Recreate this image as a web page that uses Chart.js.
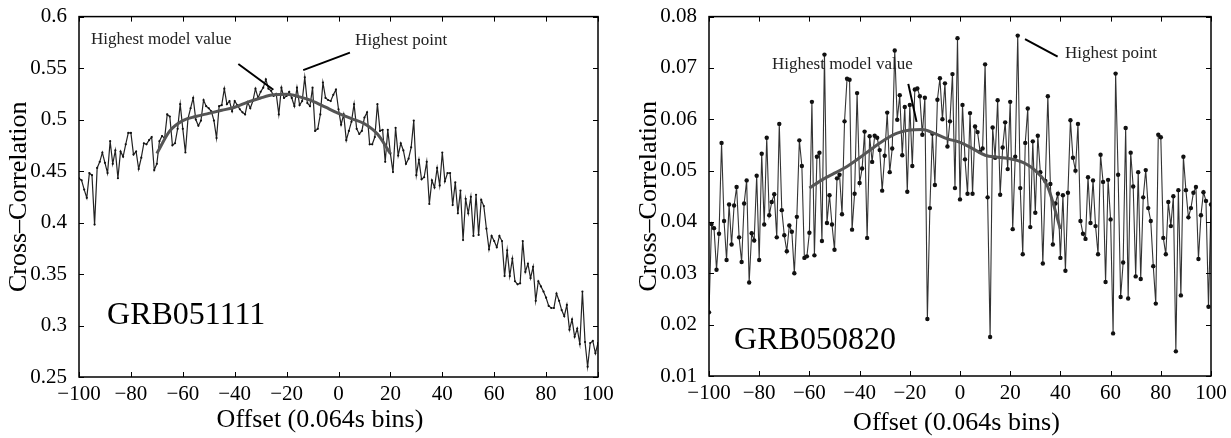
<!DOCTYPE html>
<html>
<head>
<meta charset="utf-8">
<script src="https://cdn.jsdelivr.net/npm/chart.js@4.4.0/dist/chart.umd.min.js"></script>
<style>
  body { margin: 0; background: #fff; }
  #wrap { position: relative; width: 1231px; height: 438px; }
  canvas { position: absolute; top: 0; }
</style>
</head>
<body>
<div id="wrap">
  <canvas id="leftChart" width="616" height="438" style="left:0"></canvas>
  <canvas id="rightChart" width="615" height="438" style="left:616px"></canvas>
</div>
<script>
// offset bins, one per lag
const offsets = [];
for (let k = -100; k <= 100; k++) offsets.push(k);

const xTicks = [-100, -80, -60, -40, -20, 0, 20, 40, 60, 80, 100];
const leftYTicks = [0.25, 0.3, 0.35, 0.4, 0.45, 0.5, 0.55, 0.6];
const rightYTicks = [0.01, 0.02, 0.03, 0.04, 0.05, 0.06, 0.07, 0.08];

// GRB051111 cross-correlation, offsets -100..100
const grb051111 = [
  0.443, 0.441, 0.432, 0.424, 0.448, 0.446, 0.398, 0.453, 0.459, 0.468,
  0.458, 0.448, 0.479, 0.457, 0.470, 0.443, 0.469, 0.464, 0.476, 0.487,
  0.487, 0.466, 0.469, 0.452, 0.463, 0.477, 0.476, 0.480, 0.483, 0.451,
  0.457, 0.479, 0.484, 0.482, 0.505, 0.503, 0.475, 0.477, 0.491, 0.515,
  0.491, 0.468, 0.501, 0.511, 0.521, 0.500, 0.494, 0.499, 0.519, 0.513,
  0.511, 0.508, 0.499, 0.482, 0.513, 0.514, 0.530, 0.515, 0.518, 0.508,
  0.518, 0.514, 0.510, 0.507, 0.505, 0.517, 0.511, 0.518, 0.530, 0.521,
  0.527, 0.531, 0.539, 0.530, 0.528, 0.523, 0.525, 0.505, 0.531, 0.521,
  0.523, 0.527, 0.521, 0.513, 0.531, 0.514, 0.518, 0.541, 0.516, 0.513,
  0.531, 0.489, 0.491, 0.505, 0.536, 0.521, 0.519, 0.518, 0.524, 0.529,
  0.510,
  0.495, 0.505, 0.480, 0.489, 0.498, 0.515, 0.491, 0.486, 0.489, 0.502,
  0.507, 0.476, 0.476, 0.483, 0.515, 0.489, 0.490, 0.459, 0.490, 0.467,
  0.449, 0.492, 0.465, 0.477, 0.470, 0.457, 0.462, 0.473, 0.499, 0.446,
  0.461, 0.442, 0.444, 0.459, 0.418, 0.441, 0.434, 0.453, 0.436, 0.468,
  0.440, 0.448, 0.448, 0.417, 0.439, 0.409, 0.431, 0.383, 0.423, 0.409,
  0.425, 0.387, 0.427, 0.388, 0.422, 0.416, 0.394, 0.374, 0.387, 0.382,
  0.376, 0.387, 0.382, 0.348, 0.373, 0.348, 0.365, 0.343, 0.340, 0.341,
  0.382, 0.352, 0.360, 0.346, 0.357, 0.324, 0.343, 0.338, 0.333, 0.327,
  0.319, 0.317, 0.317, 0.331, 0.324, 0.315, 0.309, 0.320, 0.296, 0.306,
  0.289, 0.297, 0.282, 0.333, 0.284, 0.260, 0.283, 0.285, 0.273, 0.283
];

// GRB050820 cross-correlation, offsets -100..100
const grb050820 = [
  0.0224, 0.0396, 0.0388, 0.0307, 0.0377, 0.0554, 0.0402, 0.0326, 0.0434, 0.0356,
  0.0432, 0.0468, 0.0370, 0.0322, 0.0436, 0.0481, 0.0282, 0.0378, 0.0364, 0.0490,
  0.0326, 0.0533, 0.0395, 0.0564, 0.0413, 0.0439, 0.0454, 0.0370, 0.0591, 0.0423,
  0.0374, 0.0343, 0.0393, 0.0381, 0.0300, 0.0410, 0.0559, 0.0509, 0.0330, 0.0333,
  0.0379, 0.0634, 0.0335, 0.0527, 0.0535, 0.0363, 0.0726, 0.0398, 0.0452, 0.0395,
  0.0346, 0.0485, 0.0492, 0.0415, 0.0596, 0.0679, 0.0677, 0.0385, 0.0455, 0.0651,
  0.0476, 0.0504, 0.0576, 0.0369, 0.0567, 0.0517, 0.0568, 0.0564, 0.0540, 0.0461,
  0.0529, 0.0613, 0.0497, 0.0543, 0.0734, 0.0599, 0.0647, 0.0530, 0.0624, 0.0459,
  0.0628, 0.0509, 0.0658, 0.0660, 0.0645, 0.0570, 0.0642, 0.0211, 0.0427, 0.0572,
  0.0472, 0.0638, 0.0680, 0.0600, 0.0670, 0.0547, 0.0596, 0.0688, 0.0466, 0.0758,
  0.0444,
  0.0628, 0.0522, 0.0455, 0.0612, 0.0455, 0.0586, 0.0575, 0.0537, 0.0543, 0.0707,
  0.0448, 0.0176, 0.0584, 0.0525, 0.0637, 0.0453, 0.0545, 0.0594, 0.0503, 0.0634,
  0.0386, 0.0527, 0.0763, 0.0466, 0.0337, 0.0554, 0.0621, 0.0390, 0.0557, 0.0418,
  0.0568, 0.0497, 0.0319, 0.0480, 0.0645, 0.0474, 0.0356, 0.0436, 0.0455, 0.0330,
  0.0452, 0.0305, 0.0457, 0.0598, 0.0525, 0.0500, 0.0591, 0.0402, 0.0377, 0.0367,
  0.0487, 0.0398, 0.0481, 0.0392, 0.0337, 0.0531, 0.0478, 0.0283, 0.0482, 0.0405,
  0.0183, 0.0689, 0.0492, 0.0254, 0.0321, 0.0583, 0.0251, 0.0535, 0.0469, 0.0294,
  0.0497, 0.0289, 0.0448, 0.0501, 0.0427, 0.0402, 0.0314, 0.0241, 0.0570, 0.0565,
  0.0369, 0.0337, 0.0439, 0.0392, 0.0450, 0.0148, 0.0462, 0.0257, 0.0527, 0.0462,
  0.0409, 0.0427, 0.0457, 0.0468, 0.0328, 0.0413, 0.0458, 0.0441, 0.0235, 0.0434
];

// smooth model fits
const model051111X = [-70, -65, -60, -55, -50, -45, -40, -35, -30, -25, -20, -15, -10, -5, 0, 5, 10, 15, 20];
const model051111Y = [0.467, 0.489, 0.499, 0.503, 0.506, 0.509, 0.512, 0.517, 0.521, 0.524, 0.5245, 0.522, 0.518, 0.512, 0.506, 0.501, 0.496, 0.486, 0.467];
const model050820X = [-60, -55, -50, -45, -40, -35, -30, -25, -20, -15, -10, -5, 0, 5, 10, 15, 20, 25, 30, 35, 40];
const model050820Y = [0.0466, 0.0482, 0.0495, 0.0508, 0.0525, 0.0543, 0.0560, 0.0573, 0.0579, 0.0580, 0.0572, 0.0562, 0.0555, 0.0543, 0.0530, 0.0526, 0.0523, 0.0516, 0.0500, 0.0468, 0.0386];

const serif = "'Liberation Serif', 'Times New Roman', serif";

function points(xs, ys) {
  return xs.map((x, i) => ({ x: x, y: ys[i] }));
}

function fmt(v) {
  return String(+Number(v).toFixed(3)).replace("-", "\u2212");
}

// box, inward ticks, titles and the notes
const framePlugin = {
  id: "frame",
  afterDraw(chart, args, opts) {
    const ctx = chart.ctx;
    const a = chart.chartArea;
    const x = chart.scales.x;
    const y = chart.scales.y;
    ctx.save();
    ctx.strokeStyle = "#000";
    ctx.lineWidth = 1.5;
    ctx.strokeRect(a.left, a.top, a.right - a.left, a.bottom - a.top);

    ctx.lineWidth = 1;
    ctx.beginPath();
    xTicks.forEach(v => {
      const px = Math.round(x.getPixelForValue(v)) + 0.5;
      ctx.moveTo(px, a.bottom); ctx.lineTo(px, a.bottom - 5);
      ctx.moveTo(px, a.top); ctx.lineTo(px, a.top + 5);
    });
    opts.yTicks.forEach(v => {
      const py = Math.round(y.getPixelForValue(v)) + 0.5;
      ctx.moveTo(a.left, py); ctx.lineTo(a.left + 5, py);
      ctx.moveTo(a.right, py); ctx.lineTo(a.right - 5, py);
    });
    ctx.stroke();

    ctx.fillStyle = "#000";
    ctx.font = "26px " + serif;
    ctx.textAlign = "center";
    ctx.textBaseline = "alphabetic";
    ctx.fillText("Offset (0.064s bins)", opts.xTitleX, opts.xTitleY);
    ctx.save();
    ctx.translate(opts.yTitleX, (a.top + a.bottom) / 2);
    ctx.rotate(-Math.PI / 2);
    ctx.textBaseline = "middle";
    ctx.fillText("Cross\u2013Correlation", 0, 0);
    ctx.restore();

    ctx.textAlign = "left";
    opts.notes.forEach(n => {
      ctx.font = n.size + "px " + serif;
      ctx.fillStyle = n.color || "#000";
      ctx.fillText(n.text, x.getPixelForValue(n.x), y.getPixelForValue(n.y));
    });

    ctx.strokeStyle = "#000";
    ctx.lineWidth = 2;
    ctx.beginPath();
    opts.pointers.forEach(p => {
      ctx.moveTo(x.getPixelForValue(p[0]), y.getPixelForValue(p[1]));
      ctx.lineTo(x.getPixelForValue(p[2]), y.getPixelForValue(p[3]));
    });
    ctx.stroke();
    ctx.restore();
  }
};

function makeChart(id, cfg) {
  new Chart(document.getElementById(id), {
    type: "line",
    data: {
      datasets: [
        {
          data: points(cfg.modelX, cfg.modelY),
          borderColor: "#555",
          borderWidth: 3,
          pointRadius: 0,
          cubicInterpolationMode: "monotone"
        },
        {
          data: points(offsets, cfg.values),
          borderColor: cfg.lineColor,
          borderWidth: cfg.lineWidth,
          pointRadius: cfg.dot,
          pointBackgroundColor: "#111",
          pointBorderColor: "#111",
          pointBorderWidth: 0
        }
      ]
    },
    options: {
      responsive: false,
      animation: false,
      layout: { padding: { top: cfg.top, right: cfg.right, left: 0, bottom: 0 } },
      plugins: {
        legend: { display: false },
        tooltip: { enabled: false },
        frame: cfg.frame
      },
      scales: {
        x: {
          type: "linear",
          min: -100,
          max: 100,
          grid: { display: false },
          border: { display: false },
          afterBuildTicks: s => { s.ticks = xTicks.map(v => ({ value: v })); },
          afterFit: s => { s.height = cfg.xHeight; },
          ticks: { autoSkip: false, maxRotation: 0, padding: -3, color: "#000", font: { family: serif, size: 21 }, callback: fmt }
        },
        y: {
          type: "linear",
          min: cfg.yTicks[0],
          max: cfg.yTicks[cfg.yTicks.length - 1],
          grid: { display: false },
          border: { display: false },
          afterBuildTicks: s => { s.ticks = cfg.yTicks.map(v => ({ value: v })); },
          afterFit: s => { s.width = cfg.yWidth; },
          ticks: { autoSkip: false, padding: 4, color: "#000", font: { family: serif, size: 21 }, callback: fmt }
        }
      }
    },
    plugins: [framePlugin]
  });
}

makeChart("leftChart", {
  values: grb051111,
  modelX: model051111X,
  modelY: model051111Y,
  yTicks: leftYTicks,
  lineColor: "#222",
  lineWidth: 1.2,
  dot: 1.1,
  top: 11,
  right: 18,
  yWidth: 79,
  xHeight: 61,
  frame: {
    yTicks: leftYTicks,
    xTitleX: 320,
    xTitleY: 427,
    yTitleX: 19,
    notes: [
      { text: "Highest model value", x: -95.4, y: 0.573, size: 17, color: "#222" },
      { text: "Highest point", x: 6.4, y: 0.572, size: 17, color: "#222" },
      { text: "GRB051111", x: -89.2, y: 0.3016, size: 32 }
    ],
    pointers: [[-38.6, 0.554, -25.1, 0.529], [-13.6, 0.548, 4.4, 0.565]]
  }
});

makeChart("rightChart", {
  values: grb050820,
  modelX: model050820X,
  modelY: model050820Y,
  yTicks: rightYTicks,
  lineColor: "#333",
  lineWidth: 1.1,
  dot: 2.2,
  top: 12,
  right: 20,
  yWidth: 93,
  xHeight: 62,
  frame: {
    yTicks: rightYTicks,
    xTitleX: 340.5,
    xTitleY: 430,
    yTitleX: 33,
    notes: [
      { text: "Highest model value", x: -74.9, y: 0.0698, size: 17, color: "#222" },
      { text: "Highest point", x: 41.8, y: 0.0719, size: 17, color: "#222" },
      { text: "GRB050820", x: -90, y: 0.0152, size: 32 }
    ],
    pointers: [[-20.6, 0.0669, -17.3, 0.0595], [25.9, 0.0756, 38.9, 0.0722]]
  }
});
</script>
</body>
</html>
